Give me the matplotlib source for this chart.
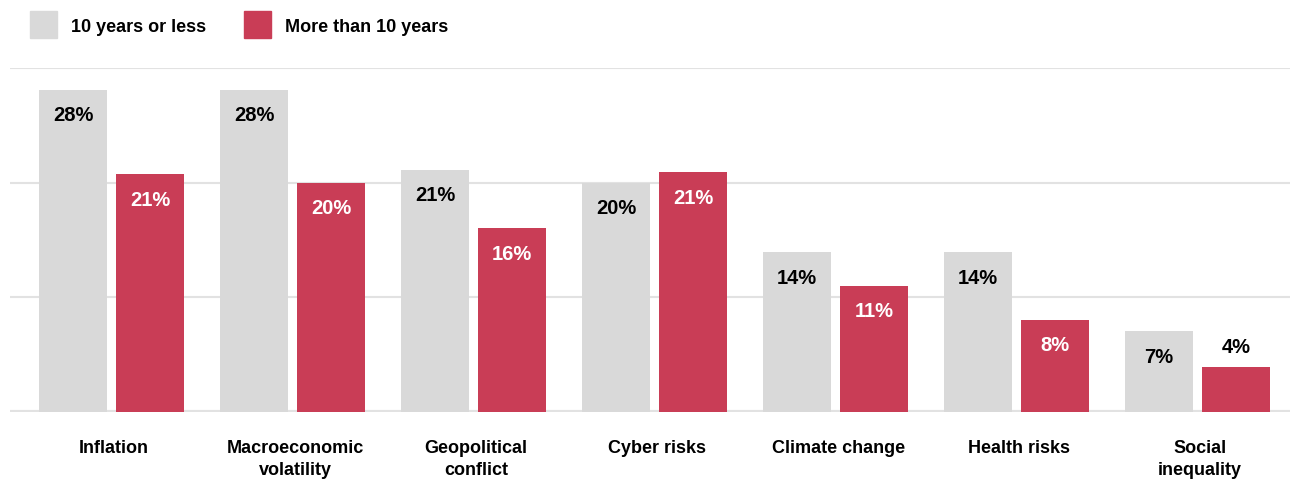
import numpy as np
import matplotlib
matplotlib.use("Agg")
import matplotlib.pyplot as plt
from matplotlib.patches import Rectangle

plt.rcParams['font.family'] = ['Liberation Sans', 'DejaVu Sans']
plt.rcParams['font.weight'] = 'bold'

categories = ["Inflation", "Macroeconomic\nvolatility", "Geopolitical\nconflict",
              "Cyber risks", "Climate change", "Health risks", "Social\ninequality"]
short_term = [28.1, 28.1, 21.1, 20.0, 13.9, 13.9, 7.0]
long_term = [20.7, 20.0, 16.0, 20.9, 11.0, 8.0, 3.9]
series_names = ["10 years or less", "More than 10 years"]

gray = "#D9D9D9"
red = "#C93D56"
grid_col = "#E2E2E2"

fig = plt.figure(figsize=(12.9, 4.8), dpi=100)
ax = fig.add_axes([10 / 1290, 1 - 411.5 / 480, 1280 / 1290, (411.5 - 68) / 480])

x = np.arange(len(categories))
w = 68 / 181
off = 38.5 / 181

b1 = ax.bar(x - off, short_term, width=w, color=gray, zorder=2)
b2 = ax.bar(x + off, long_term, width=w, color=red, zorder=2)

for bars, vals, incol in [(b1, short_term, "black"), (b2, long_term, "white")]:
    for rect, v in zip(bars, vals):
        cx = rect.get_x() + rect.get_width() / 2
        if v < 5:
            ax.annotate(f"{round(v)}%", (cx, v), xytext=(0, 19), textcoords="offset pixels",
                        ha="center", va="center", fontsize=14.5, fontweight="bold",
                        color="black", zorder=3)
        else:
            ax.annotate(f"{round(v)}%", (cx, v), xytext=(0, -26), textcoords="offset pixels",
                        ha="center", va="center", fontsize=14.5, fontweight="bold",
                        color=incol, zorder=3)

ax.set_xlim((10 - 111.5) / 181, (1290 - 111.5) / 181)
ax.set_ylim(0, 30)
ax.set_yticks([10, 20, 30])
ax.yaxis.grid(True, color=grid_col, linewidth=1.5, zorder=0)
ax.axhline(0, color=grid_col, linewidth=3, zorder=1)
ax.tick_params(axis="y", left=False, labelleft=False)
ax.tick_params(axis="x", bottom=False, pad=17)
ax.set_xticks(x + 0.015)
ax.set_xticklabels(categories, fontsize=13, fontweight="bold", linespacing=1.4, va="top")
for s in ax.spines.values():
    s.set_visible(False)

# legend
fig.patches.append(Rectangle((30 / 1290, 1 - 38 / 480), 27 / 1290, 27 / 480,
                             transform=fig.transFigure, color=gray))
fig.text(71 / 1290, 1 - 28 / 480, series_names[0], fontsize=13, fontweight="bold", va="center")
fig.patches.append(Rectangle((244 / 1290, 1 - 38 / 480), 27 / 1290, 27 / 480,
                             transform=fig.transFigure, color=red))
fig.text(285 / 1290, 1 - 28 / 480, series_names[1], fontsize=13, fontweight="bold", va="center")

fig.savefig("out.png", dpi=100)
